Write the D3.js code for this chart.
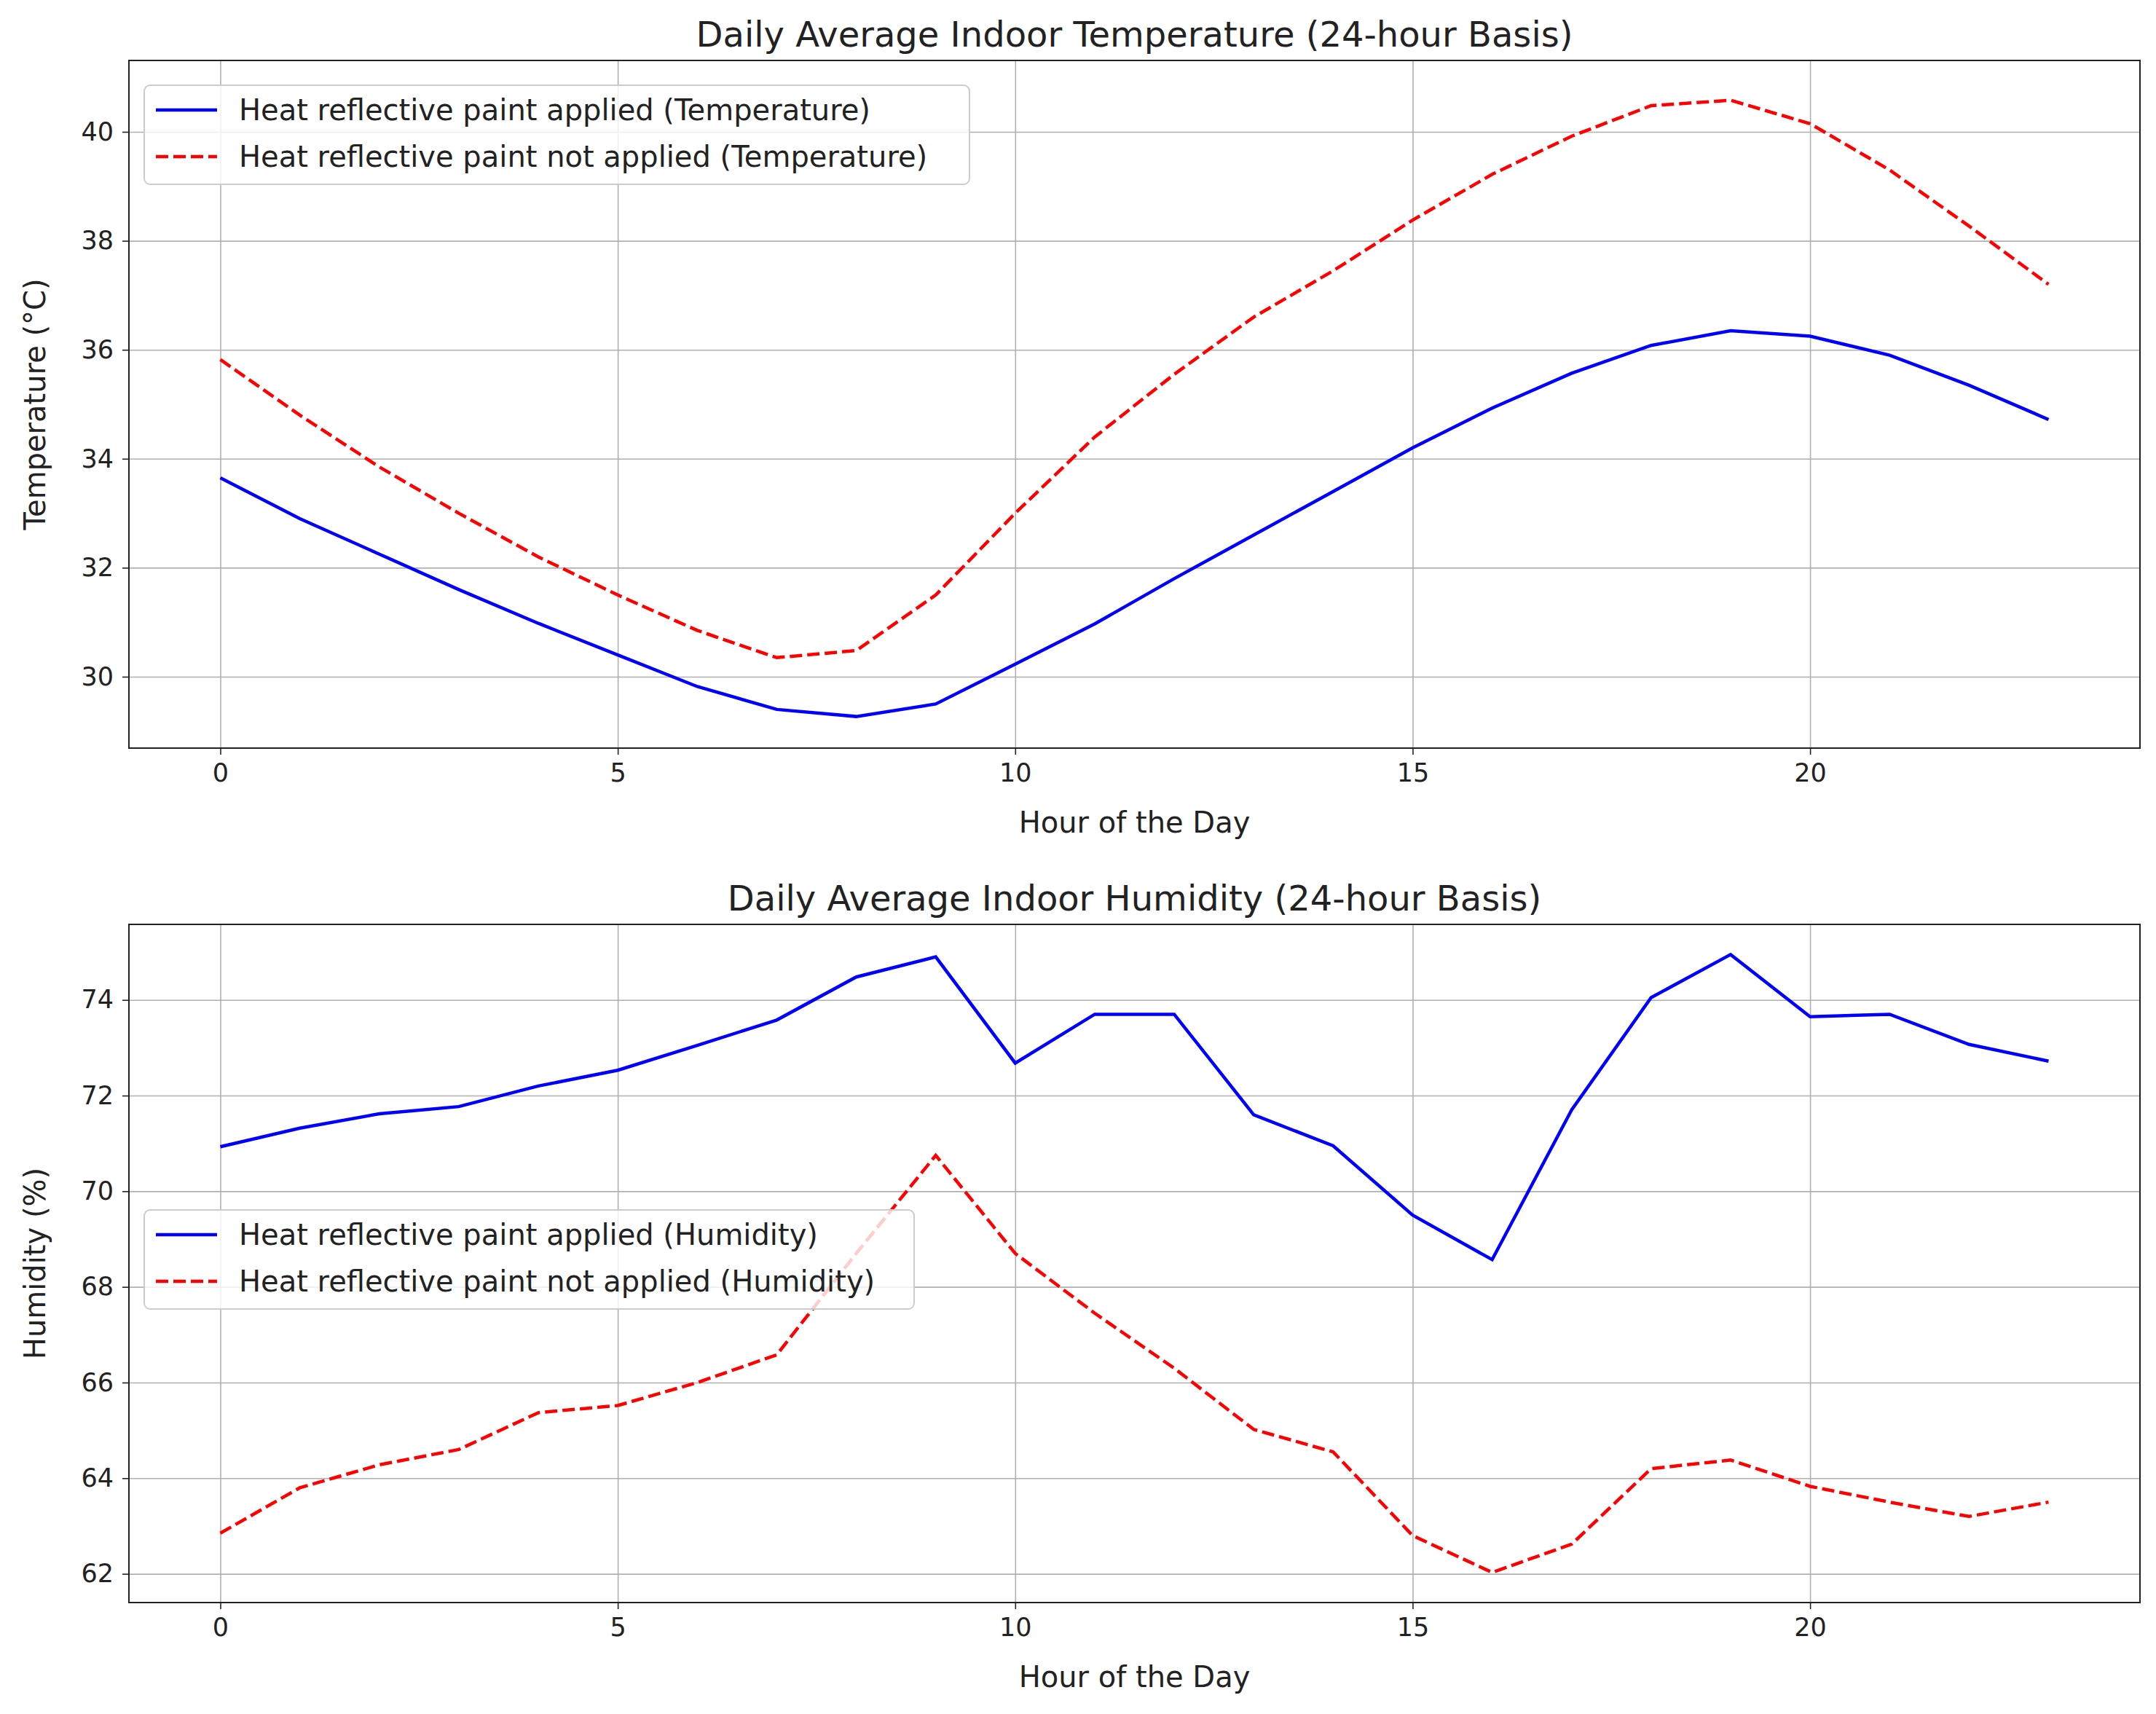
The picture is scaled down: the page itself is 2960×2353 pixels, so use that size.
<!DOCTYPE html>
<html><head><meta charset="utf-8">
<script src="https://cdn.jsdelivr.net/npm/d3@7"></script>
<style>body{margin:0;background:#fff}text{font-family:"DejaVu Sans",sans-serif;fill:#222}</style>
</head><body><svg id="c" width="2960" height="2353"></svg>
<script>
const hours = d3.range(0,24);
const tempApplied = [33.65,32.9,32.25,31.6,30.98,30.4,29.82,29.4,29.27,29.5,30.23,30.97,31.8,32.6,33.4,34.2,34.93,35.57,36.08,36.35,36.25,35.9,35.35,34.72];
const tempNotApplied = [35.82,34.8,33.85,33.0,32.2,31.5,30.85,30.35,30.48,31.5,33.0,34.4,35.55,36.6,37.45,38.38,39.22,39.92,40.48,40.58,40.15,39.3,38.27,37.2];
const humApplied = [70.93,71.32,71.62,71.77,72.2,72.53,73.05,73.58,74.48,74.9,72.68,73.7,73.7,71.6,70.95,69.5,68.57,71.7,74.05,74.95,73.65,73.7,73.07,72.72];
const humNotApplied = [62.85,63.8,64.28,64.6,65.37,65.52,66.0,66.58,68.7,70.75,68.7,67.45,66.3,65.02,64.55,62.8,62.03,62.62,64.2,64.38,63.83,63.5,63.2,63.5];
const xTicks = [0,5,10,15,20];
const tempTicks = [30,32,34,36,38,40];
const humTicks = [62,64,66,68,70,72,74];

const svg = d3.select("#c");
const L=177, R=2938;
function panel(cfg){
  const x=d3.scaleLinear().domain([-1.15,24.15]).range([L,R]);
  const y=d3.scaleLinear().domain(cfg.ydom).range([cfg.bottom,cfg.top]);
  const g=svg.append("g");
  g.append("g").attr("transform",`translate(0,${cfg.bottom})`)
   .call(d3.axisBottom(x).tickValues(xTicks).tickSize(-(cfg.bottom-cfg.top)).tickFormat(""))
   .call(a=>{a.selectAll("line").attr("stroke","#b0b0b0").attr("stroke-width",1.6);a.select(".domain").remove();});
  g.append("g").attr("transform",`translate(${L},0)`)
   .call(d3.axisLeft(y).tickValues(cfg.yticks).tickSize(-(R-L)).tickFormat(""))
   .call(a=>{a.selectAll("line").attr("stroke","#b0b0b0").attr("stroke-width",1.6);a.select(".domain").remove();});
  const xa=g.append("g").attr("transform",`translate(0,${cfg.bottom})`)
   .call(d3.axisBottom(x).tickValues(xTicks).tickSize(9).tickPadding(12));
  xa.select(".domain").remove();
  xa.selectAll("line").attr("stroke","#222").attr("stroke-width",1.6);
  xa.selectAll("text").style("font-size","35px").style("font-family","DejaVu Sans");
  const ya=g.append("g").attr("transform",`translate(${L},0)`)
   .call(d3.axisLeft(y).tickValues(cfg.yticks).tickSize(9).tickPadding(12));
  ya.select(".domain").remove();
  ya.selectAll("line").attr("stroke","#222").attr("stroke-width",1.6);
  ya.selectAll("text").style("font-size","35px").style("font-family","DejaVu Sans");
  g.append("rect").attr("x",L).attr("y",cfg.top).attr("width",R-L).attr("height",cfg.bottom-cfg.top)
   .attr("fill","none").attr("stroke","#222").attr("stroke-width",2);
  const line=d3.line().x((d,i)=>x(hours[i])).y(d=>y(d));
  g.append("path").datum(cfg.a).attr("d",line).attr("fill","none").attr("stroke","#0000ff").attr("stroke-width",4.5);
  g.append("path").datum(cfg.b).attr("d",line).attr("fill","none").attr("stroke","#ff0000").attr("stroke-width",4.5).attr("stroke-dasharray","17,7");
  g.append("text").attr("x",(L+R)/2).attr("y",cfg.top-19).attr("text-anchor","middle").style("font-size","48px").text(cfg.title);
  g.append("text").attr("x",(L+R)/2).attr("y",cfg.bottom+116).attr("text-anchor","middle").style("font-size","40px").text("Hour of the Day");
  g.append("text").attr("transform",`translate(62,${(cfg.top+cfg.bottom)/2}) rotate(-90)`).attr("text-anchor","middle").style("font-size","40px").text(cfg.ylabel);
  const lg=g.append("g").attr("transform",`translate(198,${cfg.legY})`);
  lg.append("rect").attr("width",cfg.legW).attr("height",136).attr("rx",8).attr("fill","#fff").attr("fill-opacity",0.8).attr("stroke","#ccc").attr("stroke-width",2);
  [[cfg.la,"#0000ff",null],[cfg.lb,"#ff0000","17,7"]].forEach((d,i)=>{
    const yy=34+i*64;
    lg.append("line").attr("x1",16).attr("x2",100).attr("y1",yy).attr("y2",yy).attr("stroke",d[1]).attr("stroke-width",4.5).attr("stroke-dasharray",d[2]);
    lg.append("text").attr("x",130).attr("y",yy+14).style("font-size","40px").text(d[0]);
  });
}
panel({top:83,bottom:1027,ydom:[28.69,41.31],yticks:tempTicks,a:tempApplied,b:tempNotApplied,
  title:"Daily Average Indoor Temperature (24-hour Basis)",ylabel:"Temperature (°C)",legY:117,legW:1133,
  la:"Heat reflective paint applied (Temperature)",lb:"Heat reflective paint not applied (Temperature)"});
panel({top:1269,bottom:2200,ydom:[61.4,75.58],yticks:humTicks,a:humApplied,b:humNotApplied,
  title:"Daily Average Indoor Humidity (24-hour Basis)",ylabel:"Humidity (%)",legY:1661,legW:1057,
  la:"Heat reflective paint applied (Humidity)",lb:"Heat reflective paint not applied (Humidity)"});
</script></body></html>
